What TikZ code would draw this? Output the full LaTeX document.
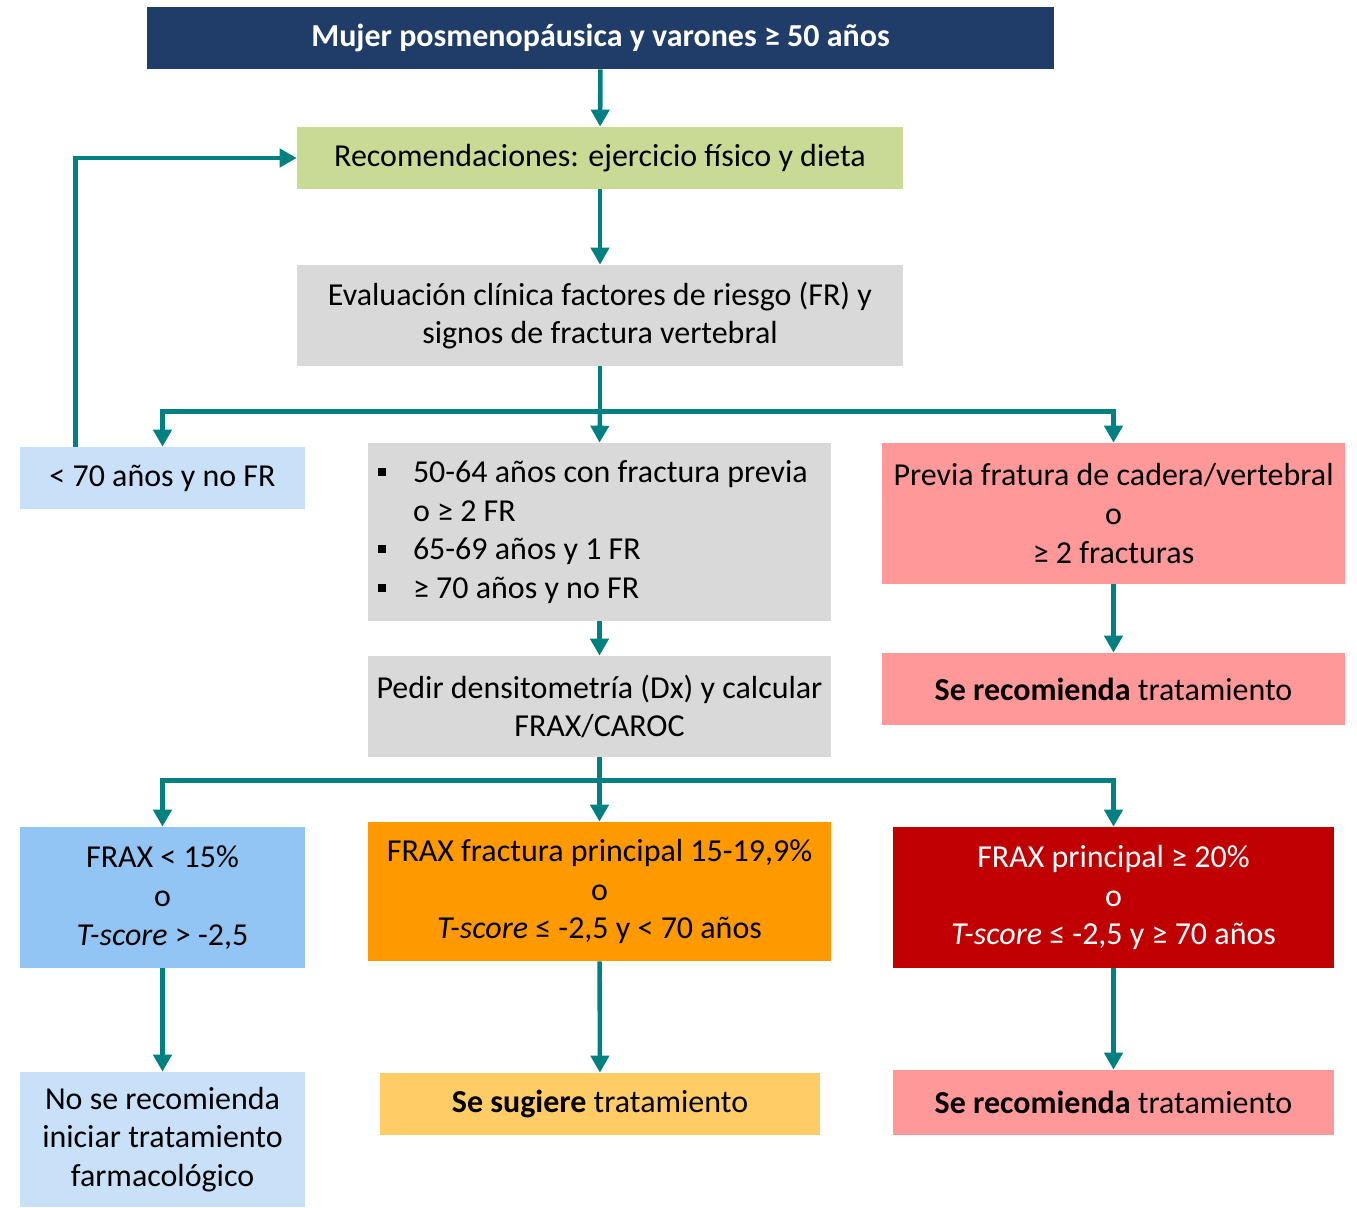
\documentclass[tikz,border=0pt]{standalone}
\usepackage{fontspec}
\setmainfont{Carlito}
\usepackage{xcolor}
\usetikzlibrary{arrows.meta}
\definecolor{fNavy}{RGB}{31,61,104}
\definecolor{fGreen}{RGB}{201,218,148}
\definecolor{fGray}{RGB}{217,217,217}
\definecolor{fSky}{RGB}{200,225,249}
\definecolor{fBlue}{RGB}{146,196,244}
\definecolor{fPink}{RGB}{255,153,153}
\definecolor{fOrange}{RGB}{255,153,0}
\definecolor{fRed}{RGB}{192,0,0}
\definecolor{fGold}{RGB}{255,204,102}
\definecolor{fTeal}{RGB}{0,128,128}
\newcommand{\blt}{\makebox[0.7cm][l]{\rule[0.2em]{4.6pt}{4.6pt}}}
\tikzset{
  fBox/.style={rectangle,inner sep=2pt,align=center,
        font=\fontsize{18.2}{22}\selectfont},
  fTop/.style={fBox,fill=fNavy,text=white,font=\fontsize{18.2}{22}\selectfont\bfseries},
  fReco/.style={fBox,fill=fGreen},
  fEval/.style={fBox,fill=fGray},
  fNo/.style={fBox,fill=fSky},
  fLow/.style={fBox,fill=fBlue},
  fMid/.style={fBox,fill=fOrange},
  fHigh/.style={fBox,fill=fRed,text=white},
  fRec/.style={fBox,fill=fPink},
  fSug/.style={fBox,fill=fGold},
  fArrow/.style={draw=fTeal,line width=2.6pt,
        -{Triangle[length=0.34cm,width=0.36cm]}},
  fLine/.style={draw=fTeal,line width=2.6pt},
}
\begin{document}
\begin{tikzpicture}[x=0.02cm,y=-0.02cm]
\useasboundingbox (0,0) rectangle (1357,1208);
\node[fTop,minimum width=18.14cm,minimum height=1.24cm]  (top)   at (600.5,38)   {Mujer posmenopáusica y varones ≥ 50 años};
\node[fReco,minimum width=12.12cm,minimum height=1.24cm] (reco)  at (600,158)    {Recomendaciones: ejercicio físico y dieta};
\node[fEval,minimum width=12.12cm,minimum height=2.02cm] (eval)  at (600,315.5)  {Evaluación clínica factores de riesgo (FR) y\\signos de fractura vertebral};
\node[fNo,minimum width=5.7cm,minimum height=1.24cm]     (young) at (162.5,478)  {< 70 años y no FR};
\node[fEval,minimum width=9.26cm,minimum height=3.56cm,inner xsep=0.2cm,
      align=flush left,text width=8.86cm] (mid) at (599.5,532)
  {\blt 50-64 años con fractura previa\\\hspace*{0.7cm}o ≥ 2 FR\\\blt 65-69 años y 1 FR\\\blt ≥ 70 años y no FR};
\node[fRec,minimum width=9.26cm,minimum height=2.82cm]   (prev)  at (1113.5,513.5) {Previa fratura de cadera/vertebral\\o\\≥ 2 fracturas};
\node[fRec,minimum width=9.26cm,minimum height=1.44cm]   (trtA)  at (1113.5,689) {\textbf{Se recomienda} tratamiento};
\node[fEval,minimum width=9.26cm,minimum height=2.02cm]  (dx)    at (599.5,706.5) {Pedir densitometría (Dx) y calcular\\FRAX/CAROC};
\node[fLow,minimum width=5.7cm,minimum height=2.82cm]    (fxLow) at (162.5,897.5) {FRAX < 15\%\\o\\\textit{T-score} > -2,5};
\node[fMid,minimum width=9.26cm,minimum height=2.78cm]   (fxMid) at (599.5,891.5) {FRAX fractura principal 15-19,9\%\\o\\\textit{T-score} ≤ -2,5 y < 70 años};
\node[fHigh,minimum width=8.82cm,minimum height=2.82cm]  (fxHigh) at (1113.5,897.5) {FRAX principal ≥ 20\%\\o\\\textit{T-score} ≤ -2,5 y ≥ 70 años};
\node[fNo,minimum width=5.7cm,minimum height=2.7cm]      (noTr)  at (162.5,1139.5) {No se recomienda\\iniciar tratamiento\\farmacológico};
\node[fSug,minimum width=8.8cm,minimum height=1.24cm]    (sugTr) at (600,1104)   {\textbf{Se sugiere} tratamiento};
\node[fRec,minimum width=8.82cm,minimum height=1.3cm]    (trtB)  at (1113.5,1102.5) {\textbf{Se recomienda} tratamiento};
% main line
\draw[fArrow] (top)--(reco);
\draw[fArrow] (reco)--(eval);
\draw[fLine] (eval.south) -- ++(0,45) coordinate (splitA);
\draw[fArrow] (splitA) -| (young.north);
\draw[fArrow] (splitA) -- (mid.north);
\draw[fArrow] (splitA) -| (prev.north);
\draw[fArrow] ([xshift=1.12cm]young.north west) |- (reco.west);
\draw[fArrow] (mid)--(dx);
\draw[fArrow] (prev)--(trtA);
% densitometry split
\draw[fLine] (dx.south) -- ++(0,23) coordinate (splitB);
\draw[fArrow] (splitB) -| (fxLow.north);
\draw[fArrow] (splitB) -- (fxMid.north);
\draw[fArrow] (splitB) -| (fxHigh.north);
\draw[fArrow] (fxLow)--(noTr);
\draw[fArrow] (fxMid)--(sugTr);
\draw[fArrow] (fxHigh)--(trtB);
\end{tikzpicture}
\end{document}
